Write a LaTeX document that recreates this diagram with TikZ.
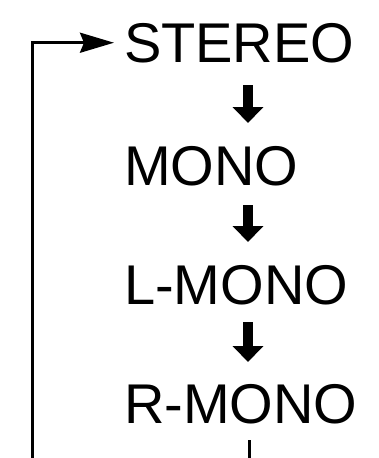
\documentclass[tikz,border=0pt]{standalone}
\usepackage{fontspec}
\setmainfont{Liberation Sans}
\usetikzlibrary{arrows.meta}
\begin{document}
\begin{tikzpicture}[x=1pt,y=-1pt,
  label/.style={anchor=base west,inner sep=0pt,outer sep=0pt,font=\fontsize{56}{60}\selectfont},
  darrow/.style={line width=10pt,-{Triangle[width=30pt,length=16pt]}},
  loopline/.style={line width=3pt}]
\useasboundingbox (0,0) rectangle (379,458);
\clip (0,0) rectangle (379,458);
\node[label] (st) at (124,62) {STEREO};
\node[label] (mo) at (124,185) {MONO};
\node[label] (lm) at (124,304) {L-MONO};
\node[label] (rm) at (124,423) {R-MONO};
\coordinate (a1s) at (248,85);  \coordinate (a1e) at (248,123);
\coordinate (a2s) at (248,205); \coordinate (a2e) at (248,242);
\coordinate (a3s) at (248,322); \coordinate (a3e) at (248,362);
\draw[darrow] (a1s) -- (a1e);
\draw[darrow] (a2s) -- (a2e);
\draw[darrow] (a3s) -- (a3e);
\coordinate (r1) at (249,440);
\coordinate (r2) at (249,460);
\draw[loopline] (r1) -- (r2);
\coordinate (l1) at (32,460);
\draw[loopline,-{Stealth[length=34pt,width=20pt,inset=4pt]},shorten >=10pt] (l1) |- (st.west);
\end{tikzpicture}
\end{document}
